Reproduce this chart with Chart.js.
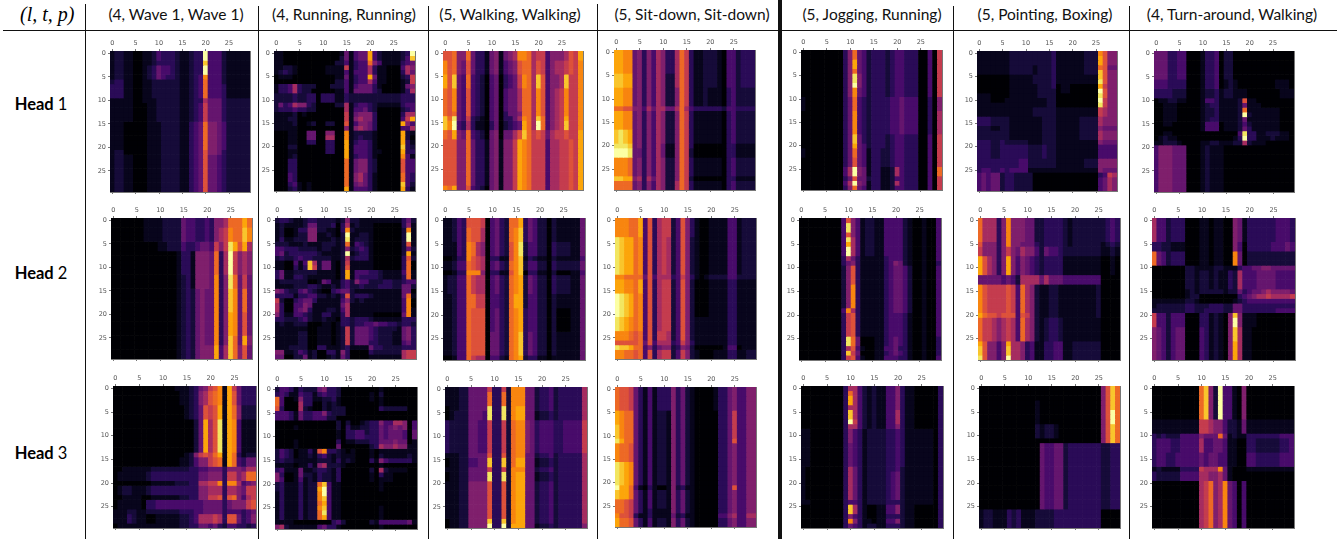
<!DOCTYPE html>
<html>
<head>
<meta charset="utf-8">
<title>Attention heads</title>
<script src="https://cdn.jsdelivr.net/npm/chart.js@4"></script>
<style>
html, body { margin: 0; padding: 0; background: #fff; }
#page { position: relative; width: 1342px; height: 539px; overflow: hidden; }
#page canvas { position: absolute; filter: blur(0.7px); }
.title { position: absolute; top: 5px; font: 15.5px Lato, sans-serif; color: #111; transform: translateX(-50%); white-space: nowrap; }
.head { position: absolute; left: 41px; font: bold 16.5px Lato, sans-serif; color: #000; transform: translate(-50%, -50%); white-space: nowrap; }
.head span { font-weight: normal; }
.rule { position: absolute; background: #111; }
#corner { position: absolute; left: 20px; top: 3px; font: italic 20px "Liberation Serif", serif; white-space: nowrap; }
</style>
</head>
<body>
<div id="page"></div>
<script>
const columnTitles = ["(4, Wave 1, Wave 1)", "(4, Running, Running)", "(5, Walking, Walking)", "(5, Sit-down, Sit-down)", "(5, Jogging, Running)", "(5, Pointing, Boxing)", "(4, Turn-around, Walking)"];
const headLabels = ["1", "2", "3"];
const tickLabels = [0, 5, 10, 15, 20, 25];
const cellLabels = ["0","1","2","3","4","5","6","7","8","9","10","11","12","13","14","15","16","17","18","19","20","21","22","23","24","25","26","27","28","29"];

// each row list: [how many rows in a row look the same, 30 cell levels in hex]
const head1Wave = [
  [2,"1221100112 4333211233 f444211111"],
  [1,"1221100112 3333211233 d444211111"],
  [2,"1221100123 5443211233 f444211111"],
  [1,"1221100123 5433211234 b444211111"],
  [1,"2331100112 2222211234 a444211111"],
  [3,"3331100112 2222211234 a444311111"],
  [1,"1111100111 2222211233 7555322222"],
  [4,"1111100011 2222211234 8555322222"],
  [6,"1110000011 1222211345 a665422222"],
  [1,"1220000011 1222211345 9665322222"],
  [8,"1221100011 1222211345 9554322222"]
];
const head1Running = [
  [1,"1100000000 0000151455 c42111123f"],
  [1,"1100000000 0000251455 c42111124d"],
  [1,"1100000000 0002241344 a641111345"],
  [1,"1122100000 0111181344 7311000476"],
  [1,"1232100000 0111141444 7311000375"],
  [1,"0111000000 0001151344 c511000238"],
  [1,"0000000000 0002241344 7411000128"],
  [1,"1334732220 0022241455 5310000156"],
  [1,"1334732200 0001141555 5320000137"],
  [2,"2222322330 3331132222 2222222333"],
  [1,"2534766320 0002271344 3211111344"],
  [1,"2333433220 0000071445 3200000234"],
  [1,"1111201000 0000081566 6300000377"],
  [1,"1112200000 0000081676 630000048c"],
  [1,"1111200120 0220091466 5300000c64"],
  [1,"1111100000 0000061676 5300000447"],
  [1,"0001100550 06600b1222 2100000c21"],
  [1,"0001100550 07700b1232 2100000c20"],
  [1,"0001100330 03300c1344 3100000c31"],
  [1,"0002200000 03300c1444 3100000d32"],
  [1,"0001100000 03300c1444 3110000c33"],
  [1,"0001200000 00000c1344 3100000b41"],
  [3,"0003300000 00000a1566 3200000944"],
  [2,"0004300000 00000a1675 3100000a43"],
  [1,"0003410100 00000a1565 3100000d42"],
  [1,"0002310100 00000c1444 3100000c31"]
];
const head1Walking = [
  [2,"99a66a5331 561567bba7 884666798c"],
  [3,"b9a6595331 5614569aa7 984677898b"],
  [3,"c9d54a4320 4503458ba7 d94667d88b"],
  [5,"a9b5494320 4504557aa7 b94678b88b"],
  [1,"a9a5494320 4503556aa7 b94678b88b"],
  [1,"dae5483210 4503357ba7 da4678c88b"],
  [2,"dbf4373110 3502345ca7 fa4678d88b"],
  [2,"a9c65a4320 5605579da8 985788988c"],
  [10,"99966a5331 561668cba8 884778898c"],
  [1,"bac6694320 561668cba8 884778898c"]
];
const head1SitDown = [
  [5,"ccbb563647 6337a83112 2210442333"],
  [3,"ddcc563647 6227a83112 2210442333"],
  [4,"ccbb563647 6226a83112 1110342222"],
  [1,"aa99664757 7557a74333 3332443333"],
  [4,"ccbb563647 6226a83111 1110342222"],
  [3,"dedc563647 6226a83111 1110342222"],
  [1,"eeed563647 5116a83000 0000331111"],
  [2,"fffe553647 5116a82000 0000331111"],
  [4,"bbba563647 6226a83111 1110342222"],
  [1,"ddcc673757 6226a82000 0000331111"],
  [2,"aaaa563647 6227a83111 1110342222"]
];
const head1Jogging = [
  [2,"0000000003 6a54233323 4433300408"],
  [2,"0000000003 6c54233323 4433300408"],
  [1,"0000000003 6a54233323 4433300408"],
  [2,"0000000003 6e64233323 4433300408"],
  [1,"0000000003 6f64233323 4433300408"],
  [2,"0000000003 6b54233323 4433300408"],
  [3,"1000000003 5a43233334 4544400306"],
  [5,"0000000003 5b43233334 4544400307"],
  [2,"0000000003 5d53233323 4433300408"],
  [1,"0000000003 5c54233323 4433300408"],
  [2,"1000000003 5a54133223 4433300408"],
  [2,"0000000003 5954133223 4433300408"],
  [2,"0000000004 7f65133112 743330040a"],
  [1,"0000000003 5955233112 4433300408"],
  [1,"0000000004 7f65133112 7433300408"],
  [1,"0000000003 6a54133112 4433300408"]
];
const head1Pointing = [
  [1,"1111111222 2222223111 111222b966"],
  [2,"1111111222 2222223111 111222c966"],
  [1,"1111111222 2212223111 111222a955"],
  [1,"1111111222 2212223111 111222d966"],
  [1,"0000000111 1122223111 111111d966"],
  [1,"0000000111 1122223111 111111e966"],
  [1,"0000000111 1112223011 000000c866"],
  [1,"0000000111 1112222011 000000f966"],
  [1,"1110000111 1112222000 000000e966"],
  [1,"1110001111 1111122000 000000f866"],
  [1,"1111111111 1111122000 000000e866"],
  [2,"1111111111 1122222111 1111118766"],
  [2,"3332222111 1111222111 1122227666"],
  [1,"2221122111 1111222111 1122226555"],
  [2,"2222222111 1111222111 1122227666"],
  [1,"3332232222 2111222111 1111116555"],
  [3,"3332233333 3222322111 1111114444"],
  [2,"3333333334 4222222111 1112226666"],
  [1,"3443343444 4111111111 1111116555"],
  [1,"4545523322 2200000000 0000003487"],
  [3,"4545523322 2200000000 0000004576"]
];
const head1Turn = [
  [6,"5553344000 1334022000 0000000000"],
  [2,"4443333000 1334012100 0000001110"],
  [2,"3333222000 1223122111 0000000111"],
  [1,"0112211000 1443111129 1100000000"],
  [1,"0011100000 1233111125 1110000000"],
  [1,"0011100000 122311112a 1111111000"],
  [1,"0011100000 122311112f 2111111000"],
  [1,"0011100000 1233111125 1111111000"],
  [1,"0011000000 1444011124 2111111000"],
  [1,"0000000000 1444011125 3111111000"],
  [1,"0011000000 000000004e 3311222110"],
  [1,"0121100000 000000013f 3311121110"],
  [1,"1122210000 1122111227 2111000000"],
  [10,"4666555000 1211100000 0000000000"]
];

const head2Wave = [
  [2,"0000000111 1222254433 43667aaaca"],
  [3,"0000000111 1222254433 43678baadb"],
  [2,"0000000000 1122243345 54868ec9c7"],
  [5,"0000000000 0000133166 65a37f8676"],
  [3,"0000000000 0000123166 65b36ea585"],
  [5,"0000000000 0000123256 55b36db5a5"],
  [5,"0000000000 0000123256 55b36cb595"],
  [2,"0000000000 0000123256 55b36da5c6"],
  [3,"0000000000 0000123256 66c47da695"]
];
const head2Running = [
  [1,"2332112332 2221262211 1111111352"],
  [1,"1211112552 2230371211 1000000361"],
  [1,"1200133662 21103b2111 10000002b1"],
  [1,"1200122661 12102f1122 10000002f1"],
  [1,"1311222661 11212e1222 10000002f1"],
  [1,"2221112111 22212a1432 1000000291"],
  [1,"4433322221 2211262343 1000000252"],
  [1,"4523333332 11112f1233 10000002c1"],
  [1,"2322343322 2211272333 1000000392"],
  [1,"1100414d72 5510281111 10000003a0"],
  [1,"1100313d82 5510291111 10000003a0"],
  [1,"3511222221 11102c1444 33211114a1"],
  [1,"3511332111 11102c1433 33211113a1"],
  [1,"1222222001 5411342644 2223322344"],
  [1,"1111222332 1121342232 2233322552"],
  [1,"6532245321 0034552111 1111111550"],
  [1,"3333133442 2121392333 21111115a1"],
  [1,"8200345531 1111462121 11111114b0"],
  [1,"7300446511 1111571111 11111114b0"],
  [1,"7300456311 1221471111 11111114b1"],
  [1,"6311443211 3311371111 10000005b1"],
  [1,"3322234211 2110332333 2111111333"],
  [1,"1211222000 1101332334 4544332332"],
  [1,"1111111001 1101282555 4322221563"],
  [2,"1111122001 1101282555 4322211563"],
  [1,"1111122001 1101282555 3322211453"],
  [1,"1112222003 3111231111 5332222333"],
  [1,"6611243120 0331630000 3222222788"],
  [1,"5500225120 0121530000 1111111788"]
];
const head2Walking = [
  [2,"1124399980 4532aac354 2202111115"],
  [3,"11243a9970 4532abd354 2202111115"],
  [3,"11143ba760 45329be244 2203222115"],
  [1,"00133b9870 33119bd132 1102111114"],
  [2,"11244a9870 4532abd244 2203222225"],
  [1,"00133bbb60 33119bd033 1102000114"],
  [4,"12244a8770 4532abc254 2203222115"],
  [3,"11244aa880 4432acc244 2202111115"],
  [5,"11244a9990 4532abc344 2202000115"],
  [5,"11244a9990 5532abd354 2202111115"],
  [1,"00144a8770 4421abc233 1101111115"]
];
const head2SitDown = [
  [4,"bbbaac4937 8824963100 1111441222"],
  [8,"edccab4937 8724962100 1111441222"],
  [1,"bbaaaa5947 7734863101 2222442222"],
  [3,"ccbbac4937 8824962000 1111331111"],
  [5,"fedcab4937 8824962000 1111331111"],
  [3,"edcbab4937 8824962111 1111331111"],
  [2,"bbba9a4938 8724962111 1111331111"],
  [1,"99999a5947 7734863111 1111331111"],
  [1,"eddcaa4635 6623652000 0001440111"],
  [2,"bbaa9a4937 8824862100 0111331122"]
];
const head2Jogging = [
  [1,"0000000004 9641221144 4421001004"],
  [2,"0000000004 e641221144 4421001004"],
  [1,"0000000004 9641221144 4421001004"],
  [1,"0000000004 e741221144 4421001004"],
  [1,"0000000004 c741221144 4421001004"],
  [2,"0000000004 f741221144 4421001004"],
  [1,"0000000003 7531111134 4421001004"],
  [1,"0000000003 5631111134 6521001003"],
  [4,"0000000002 6931111134 5542001004"],
  [5,"0000000002 6b31111134 5542001004"],
  [1,"0000000004 b731111134 5542001004"],
  [5,"0000000003 8931111134 4431001004"],
  [2,"0000000003 ea50001134 5431001003"],
  [1,"0000000003 7941001144 5331001003"],
  [1,"0000000003 d850001134 5431001003"],
  [1,"0000000003 8941001144 4331001004"]
];
const head2Pointing = [
  [5,"a77736b666 5522333321 2222222343"],
  [1,"966636b665 5532333321 2222221232"],
  [2,"8666368657 6642544322 2222221121"],
  [4,"c97636c646 5432333311 1111110010"],
  [2,"5555545427 7775755544 4444440000"],
  [6,"b98888984a 7621122111 1111120000"],
  [1,"ca99899949 8621122111 1111120000"],
  [5,"a88767874a 7621233211 1111110000"],
  [1,"c96646c776 3411334411 2222220000"],
  [2,"d96646d776 3411334411 2222220000"],
  [1,"e96646f776 3411334411 2222220000"]
];
const head2Turn = [
  [5,"7442333000 1101100651 3333334443"],
  [2,"3322111000 1101100640 3333344454"],
  [3,"a542333000 1101100b50 2222222222"],
  [1,"0000000221 1112211134 4556655555"],
  [4,"0000000221 2212113274 4455554444"],
  [1,"0000000121 2222212253 4556766665"],
  [1,"0000000122 0000000034 5677877778"],
  [1,"1111111221 0000000123 4444444444"],
  [1,"1222222332 2233322553 3333333333"],
  [1,"2222222332 2333322553 3333334444"],
  [1,"8442444000 3312106d61 1100000000"],
  [2,"8442444000 3312106f61 1100000000"],
  [3,"6542455000 4312106d71 1000000000"],
  [4,"6542455000 4312106c71 1000000000"]
];

const head3Wave = [
  [1,"0000000000 0001112356 89b1c85333"],
  [3,"0000000000 0000112367 9ab1c95333"],
  [3,"0000000000 0000012359 89c1ca6222"],
  [7,"0000000000 000000025c 79e1cb4111"],
  [1,"0000000000 0000012689 8ac1ca3122"],
  [2,"0000000000 0000112466 89a1ca4355"],
  [1,"0011111122 2222223344 5553666577"],
  [2,"0111111233 3333333355 66638867aa"],
  [1,"0000000011 1112223377 88b3bb7456"],
  [2,"0122111233 3333333366 7773776588"],
  [1,"0011110011 1111223366 88939a6478"],
  [2,"0111110334 4444444445 5553566689"],
  [1,"1112211222 2222333445 5553444345"],
  [2,"1113211001 1111223477 7873995346"],
  [1,"0111111111 1111223355 4532443323"]
];
const head3Running = [
  [1,"2443132225 6332000000 0010000000"],
  [1,"3431143313 4332000000 1020000000"],
  [1,"a400163311 2231000000 1010000000"],
  [1,"a400073300 2121000000 0010000000"],
  [1,"9300072100 2122200000 0032222200"],
  [1,"4443153344 6322200000 0000000000"],
  [1,"4443153344 4220000000 0000000000"],
  [1,"0000000000 0002020012 3364477604"],
  [1,"0000100000 0002031122 3354565604"],
  [1,"0000000000 0001033442 3354555405"],
  [1,"0000000000 0001033443 3354555405"],
  [1,"0000100000 0003011222 3355565501"],
  [1,"0000100000 0005000000 2376676611"],
  [1,"2432011319 b332101000 1011111111"],
  [1,"2432011213 4212111000 1021111121"],
  [1,"2322111112 2213121000 3164333331"],
  [1,"1111011316 7222100000 0010000000"],
  [1,"3411151123 3213000000 2072111100"],
  [1,"6300152213 2213000000 1031100000"],
  [1,"6400141213 2213000000 1011100000"],
  [1,"231113122a d411000000 0010000000"],
  [1,"231113122c f411000000 0010000000"],
  [1,"131113122b f411000000 0000000000"],
  [1,"131113122b d411000000 0000000000"],
  [1,"131113122a c411000000 0000000000"],
  [1,"131113122b d411000000 0010000000"],
  [1,"131113122a e411000000 0010000000"],
  [1,"131113122a c411000000 0010000000"],
  [1,"1111000000 0034200000 2144444451"],
  [1,"6721111114 5331000000 0010000000"]
];
const head3Walking = [
  [1,"1112255558 3382bbb552 3342333337"],
  [3,"111225555a 33a2bbb552 3342333337"],
  [1,"011225555e 33e2bcc552 3342333337"],
  [2,"012225554e 33e2bcc551 2232333337"],
  [7,"3222255448 3382abb653 4443344448"],
  [1,"1112255559 3392abb552 3342333337"],
  [2,"011224455d 33d2acc551 2232333337"],
  [1,"1112255558 3382bbb552 3342333337"],
  [2,"011225555e 33e2bcc551 2232333337"],
  [8,"1112266669 3392bcc552 3342333337"],
  [1,"011226666d 33d2bcc552 3342333337"],
  [1,"011226666f 33f2ccc551 2232333336"]
];
const head3SitDown = [
  [5,"a998531413 3363521000 0133564466"],
  [3,"cbaa531412 2163521000 0033584466"],
  [3,"dbaa531412 2163521000 0033584466"],
  [1,"ecaa531412 2163521000 0033594466"],
  [4,"baa9531412 2163521000 0033564466"],
  [5,"edcb531412 2163521000 0033564466"],
  [1,"fcca410310 0162311000 0033594466"],
  [2,"dcca531412 2163521000 0033564466"],
  [2,"aa98531412 2163521000 0033564466"],
  [1,"aa98531311 1163521000 0033564466"],
  [1,"b998311311 1152311000 0044674477"],
  [2,"caa9531412 2163521000 0033564466"]
];
const head3Jogging = [
  [1,"0000000003 7742121144 6311000003"],
  [1,"0000000003 a742121144 6311000003"],
  [2,"0000000003 c742121144 6311000003"],
  [1,"0000000003 7742121144 6311000003"],
  [2,"0000000003 d742121144 7311000003"],
  [1,"0000000003 f842121144 7311000003"],
  [1,"0000000003 7742121144 6311000003"],
  [3,"1100000003 6431222233 4311111103"],
  [5,"1100000003 5431222233 4311111103"],
  [1,"1000000003 7531222233 4211111103"],
  [6,"1000000003 7531222234 5211111103"],
  [1,"1100000003 4431222233 3211111103"],
  [2,"0000000003 d731001144 6211000003"],
  [1,"0000000003 6431001133 3211000003"],
  [1,"0000000003 b631101144 6211000003"],
  [1,"0000000003 5431221133 3211000003"]
];
const head3Pointing = [
  [3,"0000000000 0000000000 00000069da"],
  [2,"0000000000 0010000000 00000069da"],
  [3,"0000000000 0010000000 00000069fa"],
  [3,"0000000000 0021221000 00000069da"],
  [1,"0000000000 0000000000 00000069da"],
  [14,"0000000000 0005445523 3333332233"],
  [4,"1221113231 1122223333 3333330000"]
];
const head3Turn = [
  [7,"0000000000 ad62f44106 0000000000"],
  [3,"1111111111 8876642215 1111111111"],
  [1,"3232224444 6555a51211 3333333444"],
  [3,"3444334444 7445541100 3322222334"],
  [3,"3443344444 5455441100 4433333444"],
  [1,"1211113333 8777b51000 1111111111"],
  [2,"3222224444 7766751000 0000000000"],
  [10,"0000000000 78a67b5404 0000000000"]
];

const panels = [
  [head1Wave, head1Running, head1Walking, head1SitDown, head1Jogging, head1Pointing, head1Turn],
  [head2Wave, head2Running, head2Walking, head2SitDown, head2Jogging, head2Pointing, head2Turn],
  [head3Wave, head3Running, head3Walking, head3SitDown, head3Jogging, head3Pointing, head3Turn]
];

// inferno colormap, one colour per hex level (dark end sampled more finely)
const inferno = ["#000004","#08051c","#160b39","#2a0b57","#480b6a","#65156e","#7f1f6c","#a52c60","#c43c4e","#dd513a","#ed6925","#f8850f","#fca50a","#f9c52c","#f2e661","#fcffa4"];

// plot boxes as they sit on the page: left, top, width, height
const boxes = [
  [[110,51,140,141],[274,51,141,140],[443,51,140,139],[614,50,141,140],[801,50,141,140],[977,51,140,140],[1154,51,140,141]],
  [[111,218,141,141],[275,218,141,141],[443,218,142,142],[615,218,141,141],[799,218,142,142],[978,218,142,142],[1152,218,143,142]],
  [[113,386,143,142],[275,387,142,142],[445,387,142,141],[615,387,141,140],[801,386,142,142],[979,386,141,142],[1152,386,142,142]]
];
const titleCenters = [176, 344, 510, 692, 872, 1045, 1232];
const headCenters = [104, 273, 453];

const page = document.getElementById("page");
const problems = [];

function addRule(left, top, width, height) {
  const d = document.createElement("div");
  d.className = "rule";
  d.style.cssText = `left:${left}px;top:${top}px;width:${width}px;height:${height}px`;
  page.appendChild(d);
}

// unroll the [count, text] rows into 30 rows of 30 levels
function expandRows(rows) {
  const out = [];
  rows.forEach(([count, text]) => {
    const clean = text.replace(/ /g, "");
    if (clean.length !== 30) problems.push(clean);
    const cells = clean.split("").map(c => parseInt(c, 16));
    for (let i = 0; i < count; i++) out.push(cells);
  });
  return out;
}

function keepTicks(scale) {
  scale.ticks = tickLabels.map(v => ({ value: v }));
}

function drawPanel(rows, box) {
  const [left, top, w, h] = box;
  const canvas = document.createElement("canvas");
  canvas.width = w + 30;
  canvas.height = h + 24;
  canvas.style.left = (left - 24) + "px";
  canvas.style.top = (top - 18) + "px";
  canvas.style.width = canvas.width + "px";
  canvas.style.height = canvas.height + "px";
  page.appendChild(canvas);

  const levels = expandRows(rows);
  if (levels.length !== 30) problems.push(levels.length);
  const frame = "#777";
  const tickFont = { family: "DejaVu Sans", size: 6.5 };
  const marks = { display: true, drawOnChartArea: false, drawTicks: true, tickLength: 2, color: frame, offset: false };

  new Chart(canvas, {
    type: "bar",
    data: {
      labels: cellLabels,
      // one stacked dataset per image row, y runs downwards
      datasets: levels.map(row => ({
        data: row.map(() => 1),
        backgroundColor: row.map(v => inferno[v]),
        borderWidth: 0,
        barPercentage: 1,
        categoryPercentage: 1
      }))
    },
    options: {
      responsive: false,
      animation: false,
      devicePixelRatio: 1,
      layout: { padding: 0 },
      plugins: { legend: { display: false }, tooltip: { enabled: false } },
      scales: {
        x: {
          position: "top", stacked: true, grid: marks, border: { color: frame },
          ticks: { font: tickFont, color: "#555", padding: 2, autoSkip: false, maxRotation: 0 },
          afterBuildTicks: keepTicks,
          afterFit: s => { s.height = 18; }
        },
        x2: {
          type: "category", position: "bottom", offset: true, grid: marks, border: { color: frame },
          ticks: { display: false, autoSkip: false },
          afterBuildTicks: keepTicks,
          afterFit: s => { s.height = 6; }
        },
        y: {
          reverse: true, stacked: true, min: 0, max: 30, grid: marks, border: { color: frame },
          ticks: { font: tickFont, color: "#555", padding: 2, autoSkip: false, callback: v => v - 0.5 },
          afterBuildTicks: s => { s.ticks = tickLabels.map(v => ({ value: v + 0.5 })); },
          afterFit: s => { s.width = 24; }
        },
        y2: {
          type: "linear", position: "right", min: 0, max: 30,
          grid: { display: false, drawTicks: false }, border: { color: frame },
          ticks: { display: false },
          afterFit: s => { s.width = 6; }
        }
      }
    }
  });
}

panels.forEach((row, r) => row.forEach((rows, c) => drawPanel(rows, boxes[r][c])));

const corner = document.createElement("div");
corner.id = "corner";
corner.textContent = "(l, t, p)";
page.appendChild(corner);

columnTitles.forEach((text, i) => {
  const d = document.createElement("div");
  d.className = "title";
  d.style.left = titleCenters[i] + "px";
  d.textContent = text;
  page.appendChild(d);
});

headLabels.forEach((n, i) => {
  const d = document.createElement("div");
  d.className = "head";
  d.style.top = headCenters[i] + "px";
  d.innerHTML = `Head <span>${n}</span>`;
  page.appendChild(d);
});

addRule(3, 30, 1334, 1);
addRule(85, 4, 1, 535);
addRule(258, 6, 1, 533);
addRule(428, 6, 1, 533);
addRule(597, 4, 1, 535);
addRule(778, 0, 4, 539);
addRule(953, 6, 1, 533);
addRule(1129, 6, 1, 533);

if (problems.length) console.error("bad rows", problems);
</script>
</body>
</html>
